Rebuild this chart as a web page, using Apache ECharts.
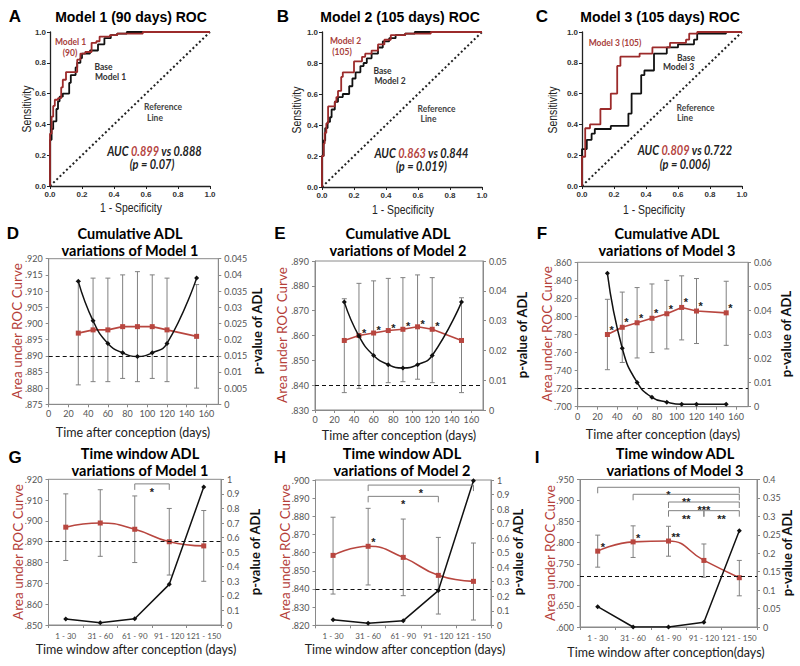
<!DOCTYPE html>
<html><head><meta charset="utf-8">
<script src="https://cdn.jsdelivr.net/npm/echarts@6/dist/echarts.min.js"></script>
<style>html,body{margin:0;padding:0;background:#fff}#c{width:800px;height:666px}</style>
</head><body><div id="c"></div>
<script>
// ================= DATA =================
// ROC curves: [1 - specificity, sensitivity]
const rocRef = [[0,0],[1,1]];
const rocAModel = [[0,0],[0,0.17],[0.01,0.34],[0.02,0.45],[0.03,0.52],[0.05,0.56],[0.07,0.57],[0.08,0.64],[0.1,0.69],[0.11,0.74],[0.17,0.74],[0.17,0.80],[0.19,0.82],[0.22,0.86],[0.26,0.87],[0.29,0.93],[0.31,0.94],[0.375,0.97],[0.42,0.98],[0.58,0.99],[0.58,1],[1,1]];
const rocABase  = [[0,0],[0,0.15],[0.01,0.3],[0.02,0.37],[0.04,0.42],[0.05,0.5],[0.06,0.55],[0.08,0.58],[0.12,0.6],[0.13,0.67],[0.16,0.72],[0.17,0.77],[0.19,0.80],[0.2,0.83],[0.25,0.86],[0.3,0.88],[0.34,0.92],[0.38,0.96],[0.42,0.98],[0.48,0.99],[0.48,1],[1,1]];
const rocBModel = [[0,0],[0,0.15],[0.01,0.2],[0.017,0.28],[0.027,0.35],[0.038,0.41],[0.048,0.52],[0.08,0.52],[0.09,0.55],[0.1,0.58],[0.12,0.62],[0.13,0.71],[0.14,0.74],[0.2,0.74],[0.2,0.79],[0.25,0.81],[0.27,0.84],[0.31,0.86],[0.35,0.88],[0.39,0.92],[0.43,0.95],[0.52,0.98],[0.68,0.99],[0.68,1],[1,1]];
const rocBBase  = [[0,0],[0,0.17],[0.01,0.2],[0.02,0.3],[0.035,0.38],[0.05,0.42],[0.06,0.45],[0.08,0.5],[0.1,0.55],[0.13,0.58],[0.17,0.6],[0.19,0.65],[0.21,0.70],[0.24,0.74],[0.26,0.78],[0.28,0.80],[0.31,0.83],[0.35,0.86],[0.38,0.9],[0.42,0.94],[0.46,0.96],[0.52,0.98],[0.58,0.99],[0.58,1],[1,1]];
const rocCModel = [[0,0],[0,0.19],[0.02,0.19],[0.02,0.375],[0.05,0.375],[0.05,0.40],[0.115,0.40],[0.115,0.5],[0.18,0.5],[0.18,0.60],[0.22,0.60],[0.22,0.78],[0.24,0.78],[0.24,0.84],[0.36,0.84],[0.36,0.86],[0.44,0.86],[0.44,0.9],[0.55,0.9],[0.55,0.92],[0.65,0.93],[0.67,0.95],[0.72,0.99],[0.8,1],[1,1]];
const rocCBase  = [[0,0],[0,0.24],[0.03,0.24],[0.03,0.3],[0.06,0.3],[0.06,0.34],[0.08,0.34],[0.08,0.37],[0.18,0.37],[0.18,0.39],[0.29,0.39],[0.29,0.47],[0.31,0.47],[0.31,0.6],[0.37,0.6],[0.37,0.72],[0.39,0.72],[0.39,0.75],[0.45,0.75],[0.45,0.86],[0.53,0.86],[0.53,0.88],[0.6,0.9],[0.7,0.92],[0.72,0.95],[0.74,0.99],[0.9,0.99],[0.9,1],[1,1]];

// Cumulative ADL (days after conception)
const cumDays = [30,45,60,75,90,105,120,150];
const aucD  = [0.897,0.898,0.898,0.899,0.899,0.899,0.898,0.896];
const ciLoD = [0.881,0.882,0.882,0.883,0.882,0.883,0.882,0.880];
const ciHiD = [0.913,0.914,0.914,0.915,0.916,0.915,0.914,0.912];
const pD    = [0.038,0.0258,0.0188,0.0159,0.0148,0.0159,0.0188,0.039];
const baseD = 0.8888;
const sigD  = ['','','','','','','',''];

const aucE  = [0.858,0.860,0.861,0.862,0.8625,0.8635,0.8625,0.858];
const ciLoE = [0.837,0.8387,0.8398,0.841,0.8414,0.8424,0.841,0.837];
const ciHiE = [0.8748,0.881,0.882,0.883,0.8833,0.8844,0.8833,0.8752];
const pE    = [0.0362,0.0248,0.0183,0.0152,0.0141,0.0152,0.0183,0.0362];
const baseE = 0.8444;
const sigE  = ['','*','*','*','*','*','*',''];

const aucF  = [0.780,0.788,0.793,0.798,0.803,0.810,0.806,0.804];
const ciLoF = [0.741,0.749,0.754,0.760,0.764,0.774,0.770,0.768];
const ciHiF = [0.819,0.827,0.832,0.836,0.840,0.845,0.842,0.839];
const pF    = [0.0554,0.0243,0.0101,0.0039,0.0019,0.001,0.001,0.001];
const baseF = 0.722;
const sigF  = ['*','*','*','*','*','*','*','*'];

// Time window ADL
const windows = ['1 - 30','31 - 60','61 - 90','91 - 120','121 - 150'];
const aucG  = [0.897,0.899,0.896,0.890,0.888];
const ciLoG = [0.881,0.883,0.880,0.874,0.871];
const ciHiG = [0.913,0.915,0.912,0.906,0.905];
const pG    = [0.041,0.016,0.043,0.279,0.947];
const baseG = 0.889;
const sigG  = ['','','','',''];
const bracketsG = [[2,3,'*',0.9178]];

const aucH  = [0.8585,0.8635,0.8574,0.8475,0.8442];
const ciLoH = [0.8372,0.8422,0.8363,0.8262,0.8229];
const ciHiH = [0.8795,0.8844,0.8785,0.8684,0.8653];
const pH    = [0.039,0.014,0.032,0.239,0.995];
const baseH = 0.8448;
const sigH  = ['','*','','',''];
const bracketsH = [[1,4,'*',0.8972],[1,3,'*',0.8910]];

const aucI  = [0.780,0.802,0.804,0.758,0.717];
const ciLoI = [0.742,0.765,0.768,0.718,0.674];
const ciHiI = [0.818,0.840,0.839,0.797,0.758];
const pI    = [0.055,0.0,0.0,0.0127,0.261];
const baseI = 0.7234;
const sigI  = ['*','*','**','',''];
const bracketsI = [[0,4,'*',0.9315],[1,4,'**',0.9149],[2,4,'***',0.8966],[2,3,'**',0.876],[3,4,'**',0.876]];

// ================= STYLE =================
const RED = '#b8463f', DARKRED = '#9c2b2b', GREY = '#808080', AXIS = '#8a8a8a', TICK = '#555';
const STAR_FONT = 'bold 11px "Liberation Sans"';

const grids = [
  {left:50, top:32, width:160, height:154},
  {left:322, top:32, width:160, height:155},
  {left:582, top:32, width:160, height:154},
  {left:48.7, top:258.7, width:169.6, height:145.6},
  {left:315, top:261, width:168, height:149},
  {left:577.7, top:262.3, width:170.3, height:144.4},
  {left:48.5, top:479.3, width:172.5, height:145.7},
  {left:315.5, top:480, width:175.5, height:145.3},
  {left:580, top:479.5, width:177, height:147.5}
].map((g,i)=>Object.assign({outerBoundsMode:'none', containLabel:false}, g,
   i>=3 ? {show:true, borderColor:AXIS, borderWidth:1, backgroundColor:'transparent'} : {}));

const xAxes = [], yAxes = [], series = [];

function rocAxis(gi){
  return {gridIndex:gi, type:'value', min:0, max:1, interval:0.2,
    axisLine:{show:true, lineStyle:{color:'#222', width:1.3}},
    axisTick:{show:true, length:3, lineStyle:{color:'#222'}},
    axisLabel:{color:'#333', fontSize:8, fontWeight:'bold', fontFamily:'Liberation Sans', margin:4, formatter:v=>v.toFixed(1)},
    splitLine:{show:false}};
}
function addRoc(gi, model, base){
  const xi = xAxes.length; xAxes.push(rocAxis(gi));
  const yi = yAxes.length; yAxes.push(rocAxis(gi));
  series.push({type:'line', xAxisIndex:xi, yAxisIndex:yi, data:rocRef, showSymbol:false, silent:true,
    lineStyle:{color:'#222', width:2, type:[2,2.5]}, z:1});
  series.push({type:'line', xAxisIndex:xi, yAxisIndex:yi, data:base, step:'start', showSymbol:false, silent:true,
    lineStyle:{color:'#111', width:1.8}, z:2});
  series.push({type:'line', xAxisIndex:xi, yAxisIndex:yi, data:model, step:'start', showSymbol:false, silent:true,
    lineStyle:{color:DARKRED, width:1.8}, z:3});
}

function leftAxis(gi, mn, mx, iv){
  return {gridIndex:gi, type:'value', min:mn, max:mx, interval:iv, position:'left',
    axisLine:{show:true, lineStyle:{color:AXIS}}, axisTick:{show:true, length:3, lineStyle:{color:AXIS}},
    axisLabel:{color:TICK, fontSize:9, fontFamily:'Lato', margin:6, formatter:v=>v.toFixed(3).replace(/^0/,'')},
    splitLine:{show:false}};
}
function rightAxis(gi, mx, iv){
  return {gridIndex:gi, type:'value', min:0, max:mx, interval:iv, position:'right',
    axisLine:{show:true, lineStyle:{color:AXIS}}, axisTick:{show:true, length:3, lineStyle:{color:AXIS}},
    axisLabel:{color:TICK, fontSize:9, fontFamily:'Lato', margin:6,
      formatter:v=>String(parseFloat(v.toFixed(4)))},
    splitLine:{show:false}};
}
function errRender(params, api){
  const x = api.value(0);
  const lo = api.coord([x, api.value(1)]);
  const hi = api.coord([x, api.value(2)]);
  const w = 2.5, st = {stroke:GREY, lineWidth:1};
  return {type:'group', children:[
    {type:'line', shape:{x1:lo[0],y1:lo[1],x2:hi[0],y2:hi[1]}, style:st},
    {type:'line', shape:{x1:lo[0]-w,y1:lo[1],x2:lo[0]+w,y2:lo[1]}, style:st},
    {type:'line', shape:{x1:hi[0]-w,y1:hi[1],x2:hi[0]+w,y2:hi[1]}, style:st}
  ]};
}
function starRender(labels, dx, dy){
  return function(params, api){
    const s = labels[params.dataIndex];
    if (!s) return null;
    const p = api.coord([api.value(0), api.value(1)]);
    return {type:'text', x:p[0]+dx, y:p[1]+dy,
      style:{text:s, font:STAR_FONT, fill:'#222', align:'left', verticalAlign:'middle', textAlign:'left', textVerticalAlign:'middle'}};
  };
}
function bracketRender(list){
  return function(params, api){
    const b = list[params.dataIndex];
    const p1 = api.coord([api.value(0), api.value(2)]);
    const p2 = api.coord([api.value(1), api.value(2)]);
    const t = 6;
    return {type:'group', children:[
      {type:'polyline', shape:{points:[[p1[0],p1[1]+t],[p1[0],p1[1]],[p2[0],p2[1]],[p2[0],p2[1]+t]]},
        style:{stroke:GREY, fill:'none', lineWidth:1}},
      {type:'text', x:(p1[0]+p2[0])/2, y:p1[1]+8,
        style:{text:b[2], font:STAR_FONT, fill:'#222', align:'center', verticalAlign:'middle', textAlign:'center', textVerticalAlign:'middle'}}
    ]};
  };
}

function addPanel(gi, c){
  const xi = xAxes.length;
  if (c.cats){
    xAxes.push({gridIndex:gi, type:'category', data:c.cats, boundaryGap:true,
      axisLine:{show:true, lineStyle:{color:AXIS}}, axisTick:{show:true, length:3, lineStyle:{color:AXIS}},
      axisLabel:{color:TICK, fontSize:8, fontFamily:'Lato', margin:7, interval:0}, splitLine:{show:false}});
  } else {
    xAxes.push({gridIndex:gi, type:'value', min:0, max:172, interval:20,
      axisLine:{show:true, lineStyle:{color:AXIS}}, axisTick:{show:true, length:3, lineStyle:{color:AXIS}},
      axisLabel:{color:TICK, fontSize:9, fontFamily:'Lato', margin:5, showMaxLabel:false,
        formatter:v=>(v%20===0 && v<=160) ? String(v) : ''},
      splitLine:{show:false}});
  }
  const yl = yAxes.length; yAxes.push(leftAxis(gi, c.yMin, c.yMax, c.yInt));
  const yr = yAxes.length; yAxes.push(rightAxis(gi, c.pMax, c.pInt));
  const xs = c.x;
  series.push({type:'custom', xAxisIndex:xi, yAxisIndex:yl, silent:true, z:2, renderItem:errRender,
    encode:{x:0, y:[1,2]}, data:xs.map((d,i)=>[d, c.lo[i], c.hi[i]])});
  series.push({type:'line', xAxisIndex:xi, yAxisIndex:yl, silent:true, z:3,
    data:xs.map((d,i)=>[d, c.auc[i]]), symbol:'rect', symbolSize:5, showSymbol:true,
    itemStyle:{color:RED}, lineStyle:{color:RED, width:1.6}, smooth:c.smoothAuc ? 0.5 : false,
    markLine:{silent:true, symbol:'none', label:{show:false}, animation:false,
      lineStyle:{color:'#111', width:1.2, type:[4,3]}, data:[{yAxis:c.base}]}});
  series.push({type:'line', xAxisIndex:xi, yAxisIndex:yr, silent:true, z:4,
    data:xs.map((d,i)=>[d, c.p[i]]), symbol:'diamond', symbolSize:5, showSymbol:true,
    itemStyle:{color:'#111'}, lineStyle:{color:'#111', width:1.5}, smooth:c.smoothP ? 0.5 : false});
  series.push({type:'custom', xAxisIndex:xi, yAxisIndex:yl, silent:true, z:5,
    renderItem:starRender(c.sig, c.sdx, c.sdy), encode:{x:0, y:1},
    data:xs.map((d,i)=>[d, c.auc[i]])});
  if (c.brackets){
    series.push({type:'custom', xAxisIndex:xi, yAxisIndex:yl, silent:true, z:5,
      renderItem:bracketRender(c.brackets), encode:{x:[0,1], y:2},
      data:c.brackets.map(b=>[b[0], b[1], b[3]])});
  }
}

addRoc(0, rocAModel, rocABase);
addRoc(1, rocBModel, rocBBase);
addRoc(2, rocCModel, rocCBase);

addPanel(3, {x:cumDays, auc:aucD, lo:ciLoD, hi:ciHiD, p:pD, base:baseD, sig:sigD, yMin:0.875, yMax:0.920, yInt:0.005, pMax:0.045, pInt:0.005, smoothP:true, sdx:3, sdy:-3});
addPanel(4, {x:cumDays, auc:aucE, lo:ciLoE, hi:ciHiE, p:pE, base:baseE, sig:sigE, yMin:0.830, yMax:0.890, yInt:0.010, pMax:0.05, pInt:0.01, smoothP:true, sdx:3, sdy:-3});
addPanel(5, {x:cumDays, auc:aucF, lo:ciLoF, hi:ciHiF, p:pF, base:baseF, sig:sigF, yMin:0.700, yMax:0.860, yInt:0.020, pMax:0.06, pInt:0.01, smoothP:true, sdx:2, sdy:-5});
const winIdx = windows.map((_,i)=>i);
addPanel(6, {cats:windows, x:winIdx, auc:aucG, lo:ciLoG, hi:ciHiG, p:pG, base:baseG, sig:sigG, yMin:0.850, yMax:0.920, yInt:0.010, pMax:1, pInt:0.1, smoothAuc:true, brackets:bracketsG, sdx:3, sdy:-4});
addPanel(7, {cats:windows, x:winIdx, auc:aucH, lo:ciLoH, hi:ciHiH, p:pH, base:baseH, sig:sigH, yMin:0.820, yMax:0.900, yInt:0.010, pMax:1, pInt:0.1, smoothAuc:true, brackets:bracketsH, sdx:3, sdy:-4});
addPanel(8, {cats:windows, x:winIdx, auc:aucI, lo:ciLoI, hi:ciHiI, p:pI, base:baseI, sig:sigI, yMin:0.600, yMax:0.950, yInt:0.050, pMax:0.4, pInt:0.05, smoothAuc:true, brackets:bracketsI, sdx:3, sdy:-4});

// ================= TEXT =================
const g = [];
function txt(x, y, text, font, fill, extra){
  g.push(Object.assign({type:'text', x:x, y:y, silent:true, z:100,
    style:{text:text, font:font, fill:fill || '#111', align:'center', verticalAlign:'middle', textAlign:'center', textVerticalAlign:'middle'}}, extra || {}));
}
const LS = '"Liberation Sans"';
const LETTER = 'bold 17px ' + LS;
[['A',15,16],['B',283,16],['C',542,16],['D',13,233],['E',280,233],['F',542,233],['G',15,457],['H',280,457],['I',537,457]]
  .forEach(a=>txt(a[1], a[2], a[0], LETTER, '#000'));

// Row 1
const T1 = 'bold 14px ' + LS;
txt(131, 17, 'Model 1 (90 days) ROC', T1, '#000');
txt(400, 17, 'Model 2 (105 days) ROC', T1, '#000');
txt(660, 17, 'Model 3 (105 days) ROC', T1, '#000');
const AXN = '13px ' + LS;
txt(131, 207, '1 - Specificity', AXN, '#222', {scaleX:0.8});
txt(403, 209, '1 - Specificity', AXN, '#222', {scaleX:0.8});
txt(654, 209, '1 - Specificity', AXN, '#222', {scaleX:0.8});
txt(26.5, 109, 'Sensitivity', AXN, '#222', {rotation:Math.PI/2, scaleX:0.8});
txt(296.5, 110, 'Sensitivity', AXN, '#222', {rotation:Math.PI/2, scaleX:0.8});
txt(552.5, 110, 'Sensitivity', AXN, '#222', {rotation:Math.PI/2, scaleX:0.8});
const ANN = 'bold 10px Lato';
const SC = {scaleX:0.85};
txt(70.5, 41.5, 'Model 1', ANN, '#a8403c', SC); txt(70, 52.5, '(90)', ANN, '#a8403c', SC);
txt(103.5, 66, 'Base', ANN, '#333', SC); txt(110.5, 76.5, 'Model 1', ANN, '#333', SC);
txt(163, 106, 'Reference', ANN, '#444', SC); txt(155, 117, 'Line', ANN, '#444', SC);
txt(345.5, 40.5, 'Model 2', ANN, '#a8403c', SC); txt(342, 51.5, '(105)', ANN, '#a8403c', SC);
txt(382.5, 70, 'Base', ANN, '#333', SC); txt(390, 80.5, 'Model 2', ANN, '#333', SC);
txt(436.5, 108, 'Reference', ANN, '#444', SC); txt(428.5, 118, 'Line', ANN, '#444', SC);
txt(615, 42, 'Model 3 (105)', ANN, '#a8403c', SC);
txt(686, 57, 'Base', ANN, '#333', SC); txt(678.5, 66, 'Model 3', ANN, '#333', SC);
txt(695.5, 107, 'Reference', ANN, '#444', SC); txt(685, 117, 'Line', ANN, '#444', SC);
function auc(x, y, a, b){
  g.push({type:'text', x:x, y:y, silent:true, z:100, scaleX:0.88,
    style:{text:'{k|AUC }{r|' + a + '}{k| vs ' + b + '}', align:'center', verticalAlign:'middle', textAlign:'center', textVerticalAlign:'middle',
      rich:{k:{font:'italic bold 12.5px Lato', fill:'#222'}, r:{font:'italic bold 12.5px Lato', fill:'#b5443f'}}}});
}
const PF = 'italic bold 12.5px Lato';
auc(154.5, 151, '0.899', '0.888'); txt(152, 164, '(p = 0.07)', PF, '#222', {scaleX:0.88});
auc(421.5, 153, '0.863', '0.844'); txt(421.5, 166.5, '(p = 0.019)', PF, '#222', {scaleX:0.88});
auc(685, 150, '0.809', '0.722'); txt(685, 164, '(p = 0.006)', PF, '#222', {scaleX:0.88});

// Rows 2 & 3 titles
const T2 = 'bold 14.5px Lato';
txt(130, 233, 'Cumulative ADL', T2, '#000'); txt(130, 250, 'variations of Model 1', T2, '#000');
txt(398, 233, 'Cumulative ADL', T2, '#000'); txt(398, 250, 'variations of Model 2', T2, '#000');
txt(667, 233, 'Cumulative ADL', T2, '#000'); txt(667, 250, 'variations of Model 3', T2, '#000');
txt(140, 453, 'Time window ADL', T2, '#000'); txt(140, 470, 'variations of Model 1', T2, '#000');
txt(402, 453, 'Time window ADL', T2, '#000'); txt(402, 470, 'variations of Model 2', T2, '#000');
txt(675, 453, 'Time window ADL', T2, '#000'); txt(675, 470, 'variations of Model 3', T2, '#000');

const XN = '12.5px Lato', YL = '13.5px Lato', YR = 'bold 13px Lato', REDN = '#b5403a';
txt(133, 432, 'Time after conception (days)', XN, '#222');
txt(399, 435, 'Time after conception (days)', XN, '#222');
txt(663, 434, 'Time after conception (days)', XN, '#222');
txt(136, 649, 'Time window after conception (days)', XN, '#222');
txt(405, 649, 'Time window after conception (days)', XN, '#222');
txt(666, 652, 'Time window after conception(days)', XN, '#222');
[[17,331],[282,335],[547,334],[18,552],[285,552],[550,553]].forEach(p=>
  txt(p[0], p[1], 'Area under ROC Curve', YL, REDN, {rotation:Math.PI/2}));
[[257,331],[522,335],[786,334],[255,552],[518,552],[787,553]].forEach(p=>
  txt(p[0], p[1], 'p-value of ADL', YR, '#111', {rotation:Math.PI/2}));

const chart = echarts.init(document.getElementById('c'), null, {renderer:'svg', width:800, height:666});
chart.setOption({animation:false, backgroundColor:'#fff', textStyle:{fontFamily:'Lato'},
  grid:grids, xAxis:xAxes, yAxis:yAxes, series:series, graphic:{elements:g}});
</script>
</body></html>
